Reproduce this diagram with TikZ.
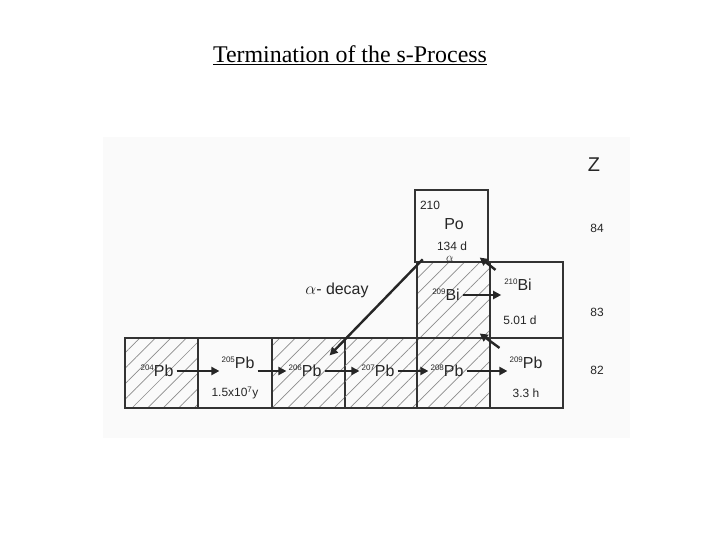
\documentclass[tikz,border=0pt]{standalone}
\usepackage{fontspec}
\setmainfont{Liberation Serif}
\setsansfont{Liberation Sans}
\usetikzlibrary{arrows.meta,patterns.meta,calc}
\tikzset{
  cell/.style={draw=black!80,line width=1.8bp,minimum width=73bp,minimum height=70bp,inner sep=0pt},
  stable/.style={pattern={Lines[angle=45,distance=11bp,line width=0.7bp]},pattern color=black!45},
  lbl/.style={font=\sffamily\fontsize{16}{18}\selectfont,text=black!85,inner sep=1bp},
  small/.style={font=\sffamily\fontsize{12}{14}\selectfont,text=black!85,inner sep=1bp},
  arr/.style={-{Triangle[length=8bp,width=8bp]},line width=2.4bp,draw=black!85,shorten <=2bp,shorten >=1bp}
}
\newcommand{\nucl}[2]{{\fontsize{8}{9}\selectfont\raisebox{6bp}{#1}}#2}
\begin{document}
\begin{tikzpicture}[x=1bp,y=-1bp]
  \useasboundingbox (0,0) rectangle (720,540);
  \fill[black!2] (103,137) rectangle (630,438);
  \node[font=\fontsize{24}{28}\selectfont] (title) at (350,55) {\underline{Termination of the s-Process}};

  % cells
  \node[cell,stable] (pb204) at (161.5,373) {};
  \node[cell] (pb205) at (235,373) {};
  \node[cell,stable] (pb206) at (308.5,373) {};
  \node[cell,stable] (pb207) at (381,373) {};
  \node[cell,stable] (pb208) at (453.5,373) {};
  \node[cell] (pb209) at (526.5,373) {};
  \node[cell,stable,minimum height=76bp] (bi209) at (453.5,300) {};
  \node[cell,minimum height=76bp] (bi210) at (526.5,300) {};
  \node[cell,minimum height=72bp] (po210) at (451.5,226) {};

  % labels
  \node[lbl] (t204) at (157,371) {\nucl{204}{Pb}};
  \node[lbl] (t205) at (238,363) {\nucl{205}{Pb}};
  \node[small] (h205) at (235,393) {1.5x10\textsuperscript{7}y};
  \node[lbl] (t206) at (305,371) {\nucl{206}{Pb}};
  \node[lbl] (t207) at (378,371) {\nucl{207}{Pb}};
  \node[lbl] (t208) at (447,371) {\nucl{208}{Pb}};
  \node[lbl] (t209) at (526,363) {\nucl{209}{Pb}};
  \node[small] (h209) at (526,393) {3.3 h};
  \node[lbl] (t209bi) at (446,295) {\nucl{209}{Bi}};
  \node[lbl] (t210bi) at (518,285) {\nucl{210}{Bi}};
  \node[small] (h210bi) at (520,320) {5.01 d};
  \node[small] (m210po) at (430,205) {210};
  \node[lbl] (t210po) at (454,224) {Po};
  \node[small] (h210po) at (452,246) {134 d};
  \node[small] (alpha) at (450,259) {$\alpha$};
  \node[lbl] (alab) at (337,290) {$\alpha$- decay};

  % Z axis
  \node[font=\sffamily\fontsize{20}{22}\selectfont,text=black!85] (zlab) at (594,165) {Z};
  \node[small] (z84) at (597,228) {84};
  \node[small] (z83) at (597,312) {83};
  \node[small] (z82) at (597,370) {82};

  % arrows
  \draw[arr] (t204.east) -- (t204.east -| t205.west);
  \draw[arr] (t205.east |- t206.west) -- (t206.west);
  \draw[arr] (t206.east) -- (t207.west);
  \draw[arr] (t207.east) -- (t208.west);
  \draw[arr] (t208.east) -- (t208.east -| t209.west);
  \draw[arr] (t209bi.east) -- (t209bi.east -| h210bi.west);
  \draw[arr] ($(pb209.north west)+(12,12)$) -- ($(bi209.south east)+(-12,-6)$);
  \draw[arr] ($(bi210.north west)+(8,10)$) -- ($(po210.south east)+(-10,-6)$);
  \draw[arr] ($(po210.south west)+(10,-5)$) -- ($(pb206.north east)+(-17,19)$);
\end{tikzpicture}
\end{document}
